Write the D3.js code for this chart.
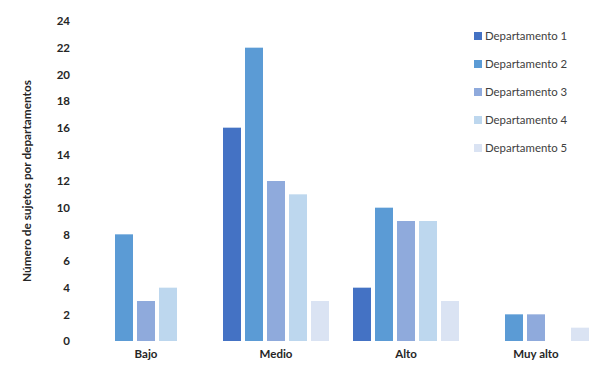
<!DOCTYPE html>
<html><head><meta charset="utf-8">
<script src="https://cdn.jsdelivr.net/npm/d3@7"></script>
<style>body{margin:0;background:#fff;} svg{display:block;} text{font-family:Lato,"Open Sans",sans-serif;}</style>
</head><body><svg id="c" width="603" height="367"></svg>
<script>
const categories = ["Bajo", "Medio", "Alto", "Muy alto"];
const seriesNames = ["Departamento 1", "Departamento 2", "Departamento 3", "Departamento 4", "Departamento 5"];
const dep1 = [0, 16, 4, 0];
const dep2 = [8, 22, 10, 2];
const dep3 = [3, 12, 9, 2];
const dep4 = [4, 11, 9, 0];
const dep5 = [0, 3, 3, 1];
const yTicks = [0, 2, 4, 6, 8, 10, 12, 14, 16, 18, 20, 22, 24];
const colors = ["#4472C4", "#5B9BD5", "#8FAADC", "#BDD7EE", "#DAE3F3"];
const yTitle = "Número de sujetos por departamentos";

(function () {
const seriesValues = [dep1, dep2, dep3, dep4, dep5];
const svg = d3.select("#c");
const plotTop = 21, plotBottom = 341;
const y = d3.scaleLinear().domain([0, 24]).range([plotBottom, plotTop]);
const x0 = d3.scaleBand().domain(categories).range([81, 601]);
const x1 = d3.scaleBand().domain(seriesNames).range([12, 118]).paddingInner(4/22);

const g = svg.append("g");
categories.forEach((c, ci) => {
  const gg = g.append("g").attr("transform", `translate(${x0(c)},0)`);
  seriesNames.forEach((s, si) => {
    const v = seriesValues[si][ci];
    if (v > 0) gg.append("rect").attr("x", x1(s)).attr("width", x1.bandwidth())
      .attr("y", y(v)).attr("height", y(0) - y(v)).attr("fill", colors[si]);
  });
});

const ya = svg.append("g").attr("transform", "translate(70,0)")
  .call(d3.axisLeft(y).tickValues(yTicks).tickSize(0).tickPadding(0));
ya.select(".domain").remove();
ya.selectAll("text").attr("font-family", "Lato").attr("font-size", 11.5).attr("font-weight", "bold").attr("fill", "#262626");

const xa = svg.append("g").attr("transform", `translate(0,${plotBottom})`)
  .call(d3.axisBottom(x0).tickSize(0).tickPadding(9));
xa.select(".domain").remove();
xa.selectAll("text").attr("font-family", "Lato").attr("font-size", 11.5).attr("font-weight", "bold").attr("fill", "#262626");

svg.append("text").attr("transform", `translate(31,${(plotTop+plotBottom)/2}) rotate(-90)`)
  .attr("text-anchor", "middle").attr("font-size", 11.8).attr("font-weight", "bold").attr("fill", "#262626").text(yTitle);

const lg = svg.append("g");
seriesNames.forEach((s, i) => {
  const row = lg.append("g").attr("transform", `translate(474,${36 + i * 28})`);
  row.append("rect").attr("x", 0).attr("y", -4).attr("width", 8).attr("height", 8).attr("fill", colors[i]);
  row.append("text").attr("x", 11).attr("y", 0).attr("dy", "0.35em").attr("font-size", 11.4).attr("fill", "#404040").text(s);
});
})();
</script></body></html>
